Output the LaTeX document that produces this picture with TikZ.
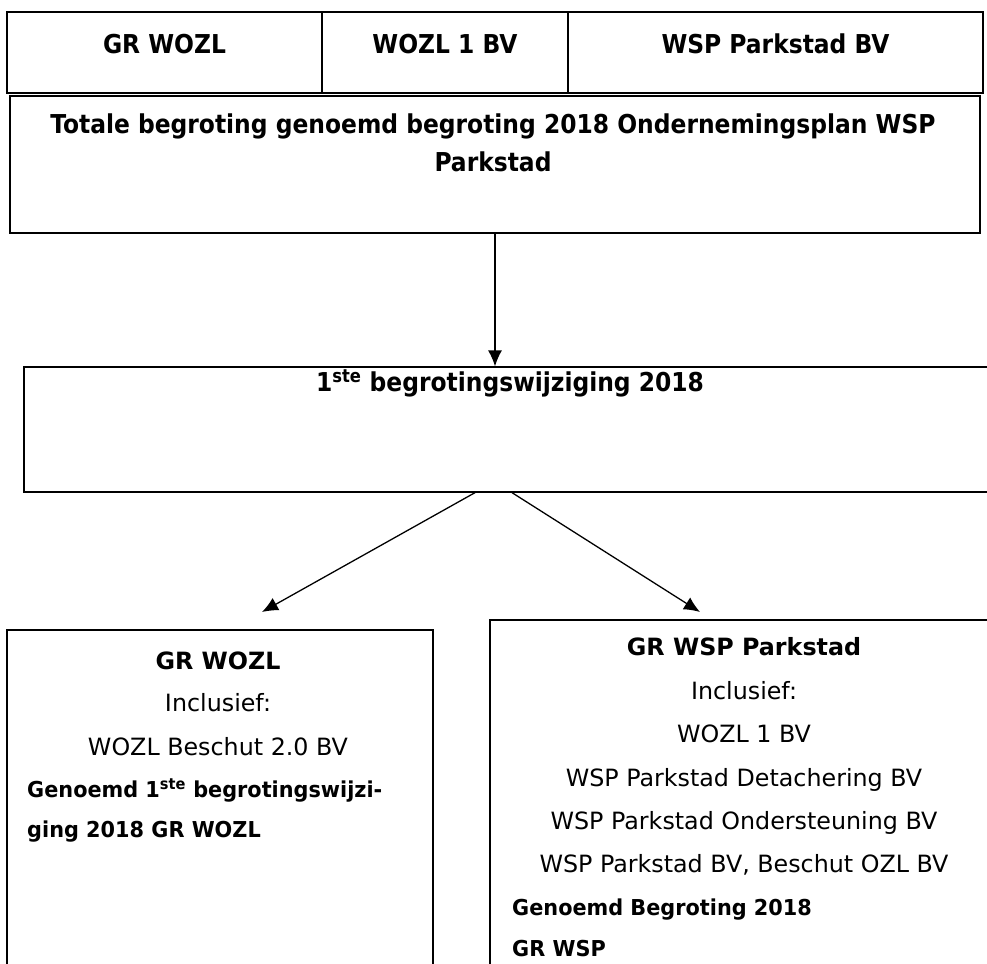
\documentclass[tikz,border=0pt]{standalone}
\usepackage{fontspec}
\setmainfont{DejaVu Sans}
\newfontfamily\condfont{DejaVu Sans Condensed}
\usetikzlibrary{fit,arrows.meta}
\newcommand{\smalvet}[1]{\scalebox{0.95}[1]{\bfseries #1}}
\begin{document}
\begin{tikzpicture}[x=0.3mm,y=-0.3mm,
    box/.style={draw,line width=1.1pt,inner sep=0pt},
    kop/.style={font=\fontsize{22.2}{26}\condfont\bfseries,anchor=base,inner sep=0pt},
    regel/.style={font=\fontsize{20.3}{24}\selectfont,anchor=base,inner sep=0pt},
    links/.style={font=\fontsize{18.7}{22}\selectfont,anchor=base west,inner sep=0pt},
    pijl/.style={-{Latex[length=4.8mm,width=4.2mm]},line width=1.1pt}]
    \useasboundingbox (0,0) rectangle (987,964);
    \clip (0,0) rectangle (987,964);
    % bovenste rij
    \node[box,fit={(7,12)(322,93)}] (grwozl) {};
    \node[box,fit={(322,12)(568,93)}] (wozlbv) {};
    \node[box,fit={(568,12)(983,93)}] (wspbv) {};
    \node[kop] (tgrwozl) at (grwozl |- 0,54) {GR WOZL};
    \node[kop] (twozlbv) at (wozlbv |- 0,54) {WOZL 1 BV};
    \node[kop] (twspbv) at (wspbv |- 0,54) {WSP Parkstad BV};
    % totale begroting
    \node[box,fit={(10,96)(980,233)}] (totaal) {};
    \node[kop] (ttotaal1) at (493,134) {Totale begroting genoemd begroting 2018 Ondernemingsplan WSP};
    \node[kop] (ttotaal2) at (493,172) {Parkstad};
    % wijziging
    \node[box,fit={(24,367)(1000,492)}] (wijz) {};
    \node[kop] (twijz) at (510,391) {1\textsuperscript{ste} begrotingswijziging 2018};
    \draw[pijl] (totaal.south) -- (totaal.south |- wijz.north);
    % onderste boxen
    \node[box,fit={(7,630)(433,980)}] (linksbox) {};
    \node[box,fit={(490,620)(1000,980)}] (rechtsbox) {};
    \coordinate (lpunt) at (262,612);
    \coordinate (rpunt) at (700,612);
    \draw[pijl] (475,0 |- wijz.south) -- (lpunt);
    \draw[pijl] (512,0 |- wijz.south) -- (rpunt);
    % tekst links
    \node[regel] (l1) at (218,669) {\textbf{GR WOZL}};
    \node[regel] (l2) at (218,711) {Inclusief:};
    \node[regel] (l3) at (218,755) {WOZL Beschut 2.0 BV};
    \node[links] (l4) at (27,797) {\smalvet{Genoemd 1\textsuperscript{ste} begrotingswijzi-}};
    \node[links] (l5) at (27,837) {\smalvet{ging 2018 GR WOZL}};
    % tekst rechts
    \foreach \y/\t [count=\i] in {655/{\textbf{GR WSP Parkstad}},699/{Inclusief:},742/{WOZL 1 BV},
        786/{WSP Parkstad Detachering BV},829/{WSP Parkstad Ondersteuning BV},
        872/{WSP Parkstad BV, Beschut OZL BV}}
        \node[regel] (r\i) at (744,\y) {\t};
    \node[links] (r7) at (512,915) {\smalvet{Genoemd Begroting 2018}};
    \node[links] (r8) at (512,956) {\smalvet{GR WSP}};
\end{tikzpicture}
\end{document}
